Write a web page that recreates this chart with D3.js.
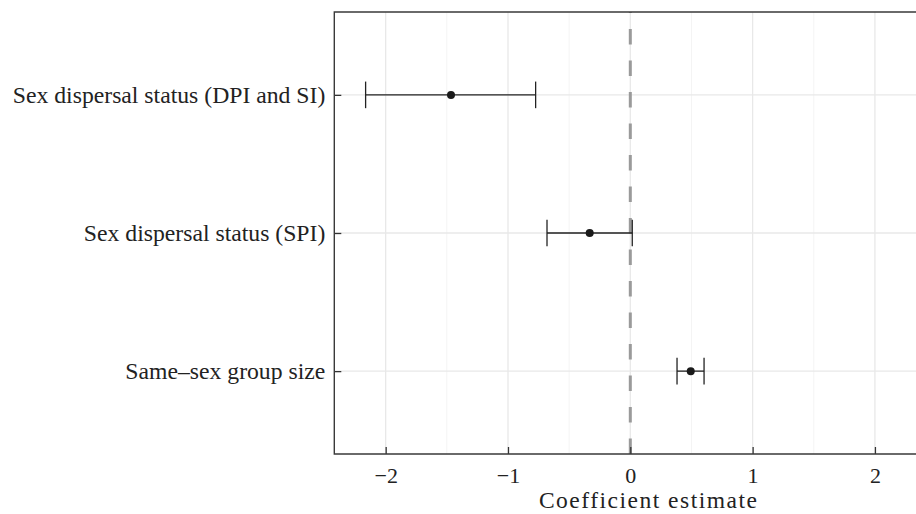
<!DOCTYPE html>
<meta charset="utf-8">
<head>
    <script src="https://d3js.org/d3.v7.min.js"></script>
    <style>
        body { margin: 0; background: #fff; }
        text { font-family: "Liberation Serif", "Times New Roman", serif; fill: #222; }
    </style>
</head>
<body>
<div id="chart"></div>
<script>

    // predictors, top to bottom
    const terms = ["Sex dispersal status (DPI and SI)", "Sex dispersal status (SPI)", "Same\u2013sex group size"]
    const estimates = [-1.466, -0.332, 0.494]
    const lower = [-2.164, -0.681, 0.382]
    const upper = [-0.774, 0.016, 0.603]

    const xTicks = [-2, -1, 0, 1, 2]
    const xMinor = [-1.5, -0.5, 0.5, 1.5, 2.5]

    const width = 916, height = 514
    // panel runs past the right edge of the picture, as in the original
    const panelLeft = 334.3, panelRight = 963, panelTop = 12, panelBottom = 454

    const svg = d3.select("#chart").append("svg")
        .attr("width", width)
        .attr("height", height)

    const x = d3.scaleLinear()
        .domain([-2.42, 2.72])
        .range([panelLeft, panelRight])

    const y = d3.scaleLinear()
        .domain([0.4, 3.6])
        .range([panelTop, panelBottom])

    const rowY = (d, i) => y(i + 1)

    // grid
    svg.append("g").selectAll("line")
        .data(xMinor)
        .join("line")
        .attr("x1", d => x(d)).attr("x2", d => x(d))
        .attr("y1", panelTop).attr("y2", panelBottom)
        .attr("stroke", "#f4f4f4")
        .attr("stroke-width", 1)

    svg.append("g").selectAll("line")
        .data(xTicks)
        .join("line")
        .attr("x1", d => x(d)).attr("x2", d => x(d))
        .attr("y1", panelTop).attr("y2", panelBottom)
        .attr("stroke", "#e8e8e8")
        .attr("stroke-width", 1.3)

    svg.append("g").selectAll("line")
        .data(terms)
        .join("line")
        .attr("x1", panelLeft).attr("x2", panelRight)
        .attr("y1", rowY).attr("y2", rowY)
        .attr("stroke", "#e8e8e8")
        .attr("stroke-width", 1.3)

    // zero reference line, dashes counted from the bottom
    svg.append("line")
        .attr("x1", x(0)).attr("x2", x(0))
        .attr("y1", panelBottom).attr("y2", panelTop)
        .attr("stroke", "#9a9a9a")
        .attr("stroke-width", 3)
        .attr("stroke-dasharray", "15.5,16")

    // error bars
    const bars = svg.append("g").selectAll("g")
        .data(terms)
        .join("g")

    bars.append("line")
        .attr("x1", (d, i) => x(lower[i])).attr("x2", (d, i) => x(upper[i]))
        .attr("y1", rowY).attr("y2", rowY)
        .attr("stroke", "#222").attr("stroke-width", 1.3)

    bars.append("line")
        .attr("x1", (d, i) => x(lower[i])).attr("x2", (d, i) => x(lower[i]))
        .attr("y1", (d, i) => rowY(d, i) - 13.3).attr("y2", (d, i) => rowY(d, i) + 13.3)
        .attr("stroke", "#222").attr("stroke-width", 1.3)

    bars.append("line")
        .attr("x1", (d, i) => x(upper[i])).attr("x2", (d, i) => x(upper[i]))
        .attr("y1", (d, i) => rowY(d, i) - 13.3).attr("y2", (d, i) => rowY(d, i) + 13.3)
        .attr("stroke", "#222").attr("stroke-width", 1.3)

    bars.append("circle")
        .attr("cx", (d, i) => x(estimates[i]))
        .attr("cy", rowY)
        .attr("r", 4)
        .attr("fill", "#1a1a1a")

    // axes (ticks point inward)
    const bottomAxis = d3.axisBottom(x)
        .tickValues(xTicks)
        .tickSize(-7)
        .tickPadding(13)
        .tickFormat(d => d < 0 ? "\u2212" + Math.abs(d) : d)

    const gx = svg.append("g")
        .attr("transform", `translate(0, ${panelBottom})`)
        .call(bottomAxis)
    gx.select(".domain").remove()
    gx.selectAll(".tick line").attr("stroke", "#333").attr("stroke-width", 1.3)
    gx.selectAll("text").attr("font-size", 22).attr("fill", "#222")
        .attr("font-family", "Liberation Serif")

    const leftAxis = d3.axisLeft(y)
        .tickValues([1, 2, 3])
        .tickSize(-7)
        .tickPadding(9)
        .tickFormat((d, i) => terms[i])

    const gy = svg.append("g")
        .attr("transform", `translate(${panelLeft}, 0)`)
        .call(leftAxis)
    gy.select(".domain").remove()
    gy.selectAll(".tick line").attr("stroke", "#333").attr("stroke-width", 1.3)
    gy.selectAll("text").attr("font-size", 23.7).attr("fill", "#222")
        .attr("font-family", "Liberation Serif")

    // panel border: left, top, bottom
    svg.append("path")
        .attr("d", `M${panelRight},${panelTop}H${panelLeft}V${panelBottom}H${panelRight}`)
        .attr("fill", "none")
        .attr("stroke", "#3a3a3a")
        .attr("stroke-width", 1.4)

    svg.append("text")
        .attr("x", (panelLeft + panelRight) / 2)
        .attr("y", 507.5)
        .attr("text-anchor", "middle")
        .attr("font-size", 23.5)
        .attr("letter-spacing", 1.5)
        .text("Coefficient estimate")

</script>
</body>
